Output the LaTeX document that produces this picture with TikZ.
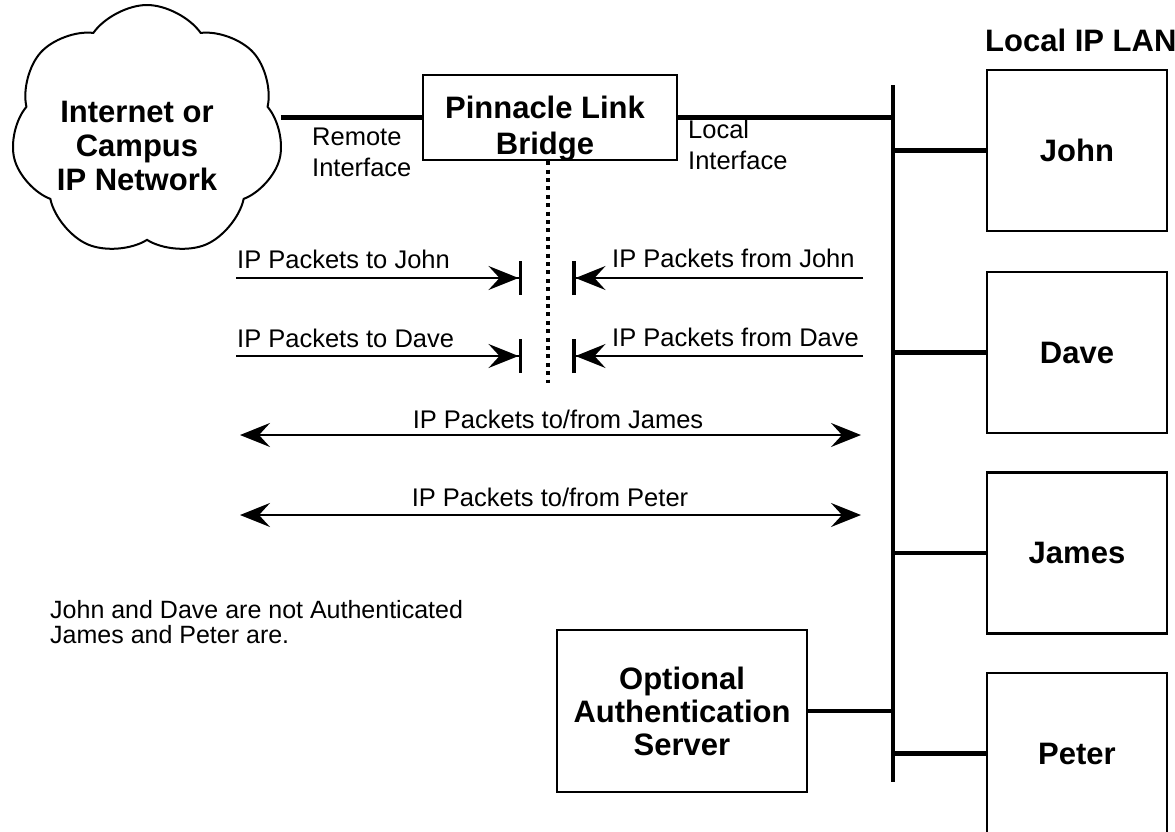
\documentclass[tikz,border=0pt]{standalone}
\usepackage{fontspec}
\setmainfont{Liberation Sans}
\usetikzlibrary{arrows.meta,shapes.symbols}
\tikzset{
  box/.style={draw,line width=2.5pt,align=center,font=\fontsize{31}{33}\selectfont\bfseries},
  host/.style={box,minimum width=180pt,minimum height=161pt},
  boldtxt/.style={align=center,inner sep=0pt,font=\fontsize{31}{34}\selectfont\bfseries},
  lbl/.style={inner sep=0pt,font=\fontsize{25.5}{31}\selectfont},
  lan/.style={line width=4.5pt},
  pkt/.style={line width=2pt},
  stopped/.style={-{Stealth[length=30pt,width=24pt,inset=11pt,sep=0pt]Bar[width=34pt,line width=3.5pt]}},
  both/.style={{Stealth[length=30pt,width=24pt,inset=11pt]}-{Stealth[length=30pt,width=24pt,inset=11pt]}}
}
\begin{document}
\begin{tikzpicture}[x=1pt,y=-1pt]
\useasboundingbox (0,0) rectangle (1175,831);
\node[draw,cloud,cloud puffs=7,cloud puff arc=110,cloud ignores aspect,line width=2pt,minimum width=272pt,minimum height=252pt,inner sep=0pt] (net) at (147,131) {};
\node[boldtxt] (nettxt) at (137,146) {Internet or\\Campus\\IP Network};
\node[box,minimum width=254pt,minimum height=85pt] (bridge) at (550,117.5) {};
\node[boldtxt,font=\fontsize{31}{36}\selectfont\bfseries] (bridgetxt) at (545,129) {Pinnacle Link\\Bridge};
\draw[lan] (net.east |- bridge.west) -- (bridge.west);
\node[lbl,align=left,anchor=north west] (remote) at (312,128) {Remote\\Interface};
\node[lbl,align=left,anchor=north west] (local) at (688,120) {Local\\Interface};
\node[boldtxt,anchor=west] (lantitle) at (985,40) {Local IP LAN};
\coordinate (bustop) at (893,85);
\coordinate (busbot) at (893,782);
\draw[lan] (bustop) -- (busbot);
\draw[lan] (bridge.east) -- (bridge.east -| bustop);
\node[host] (john) at (1077,150.5) {John};
\node[host] (dave) at (1077,352.5) {Dave};
\node[host] (james) at (1077,553) {James};
\node[host] (peter) at (1077,753.5) {Peter};
\draw[lan] (john.west -| bustop) -- (john.west);
\draw[lan] (dave.west -| bustop) -- (dave.west);
\draw[lan] (james.west -| bustop) -- (james.west);
\draw[lan] (peter.west -| bustop) -- (peter.west);
\node[box,minimum width=250pt,minimum height=162pt] (auth) at (682,711) {Optional\\Authentication\\Server};
\draw[lan] (auth.east) -- (auth.east -| bustop);
\coordinate (dotend) at (548,383);
\draw[line width=4pt,dash pattern=on 4pt off 4.4pt] (dotend |- bridge.south) -- (dotend);
\coordinate (tjs) at (236,278);
\coordinate (tje) at (522,278);
\coordinate (fjs) at (863,278);
\coordinate (fje) at (572,278);
\coordinate (tds) at (236,356);
\coordinate (tde) at (522,356);
\coordinate (fds) at (863,356);
\coordinate (fde) at (572,356);
\draw[pkt,stopped] (tjs) -- (tje);
\draw[pkt,stopped] (fjs) -- (fje);
\draw[pkt,stopped] (tds) -- (tde);
\draw[pkt,stopped] (fds) -- (fde);
\node[lbl,anchor=west] (tojohn) at (237,259) {IP Packets to John};
\node[lbl,anchor=west] (fromjohn) at (612,258) {IP Packets from John};
\node[lbl,anchor=west] (todave) at (237,338) {IP Packets to Dave};
\node[lbl,anchor=west] (fromdave) at (612,337) {IP Packets from Dave};
\coordinate (jl) at (240,435);
\coordinate (jr) at (861,435);
\coordinate (pl) at (240,515);
\coordinate (pr) at (861,515);
\draw[pkt,both] (jl) -- (jr);
\draw[pkt,both] (pl) -- (pr);
\node[lbl] (jamestxt) at (558,419) {IP Packets to/from James};
\node[lbl] (petertxt) at (550,497) {IP Packets to/from Peter};
\node[lbl,align=left,anchor=north west,font=\fontsize{25}{25}\selectfont] (note) at (50,600) {John and Dave are not Authenticated\\James and Peter are.};
\end{tikzpicture}
\end{document}
